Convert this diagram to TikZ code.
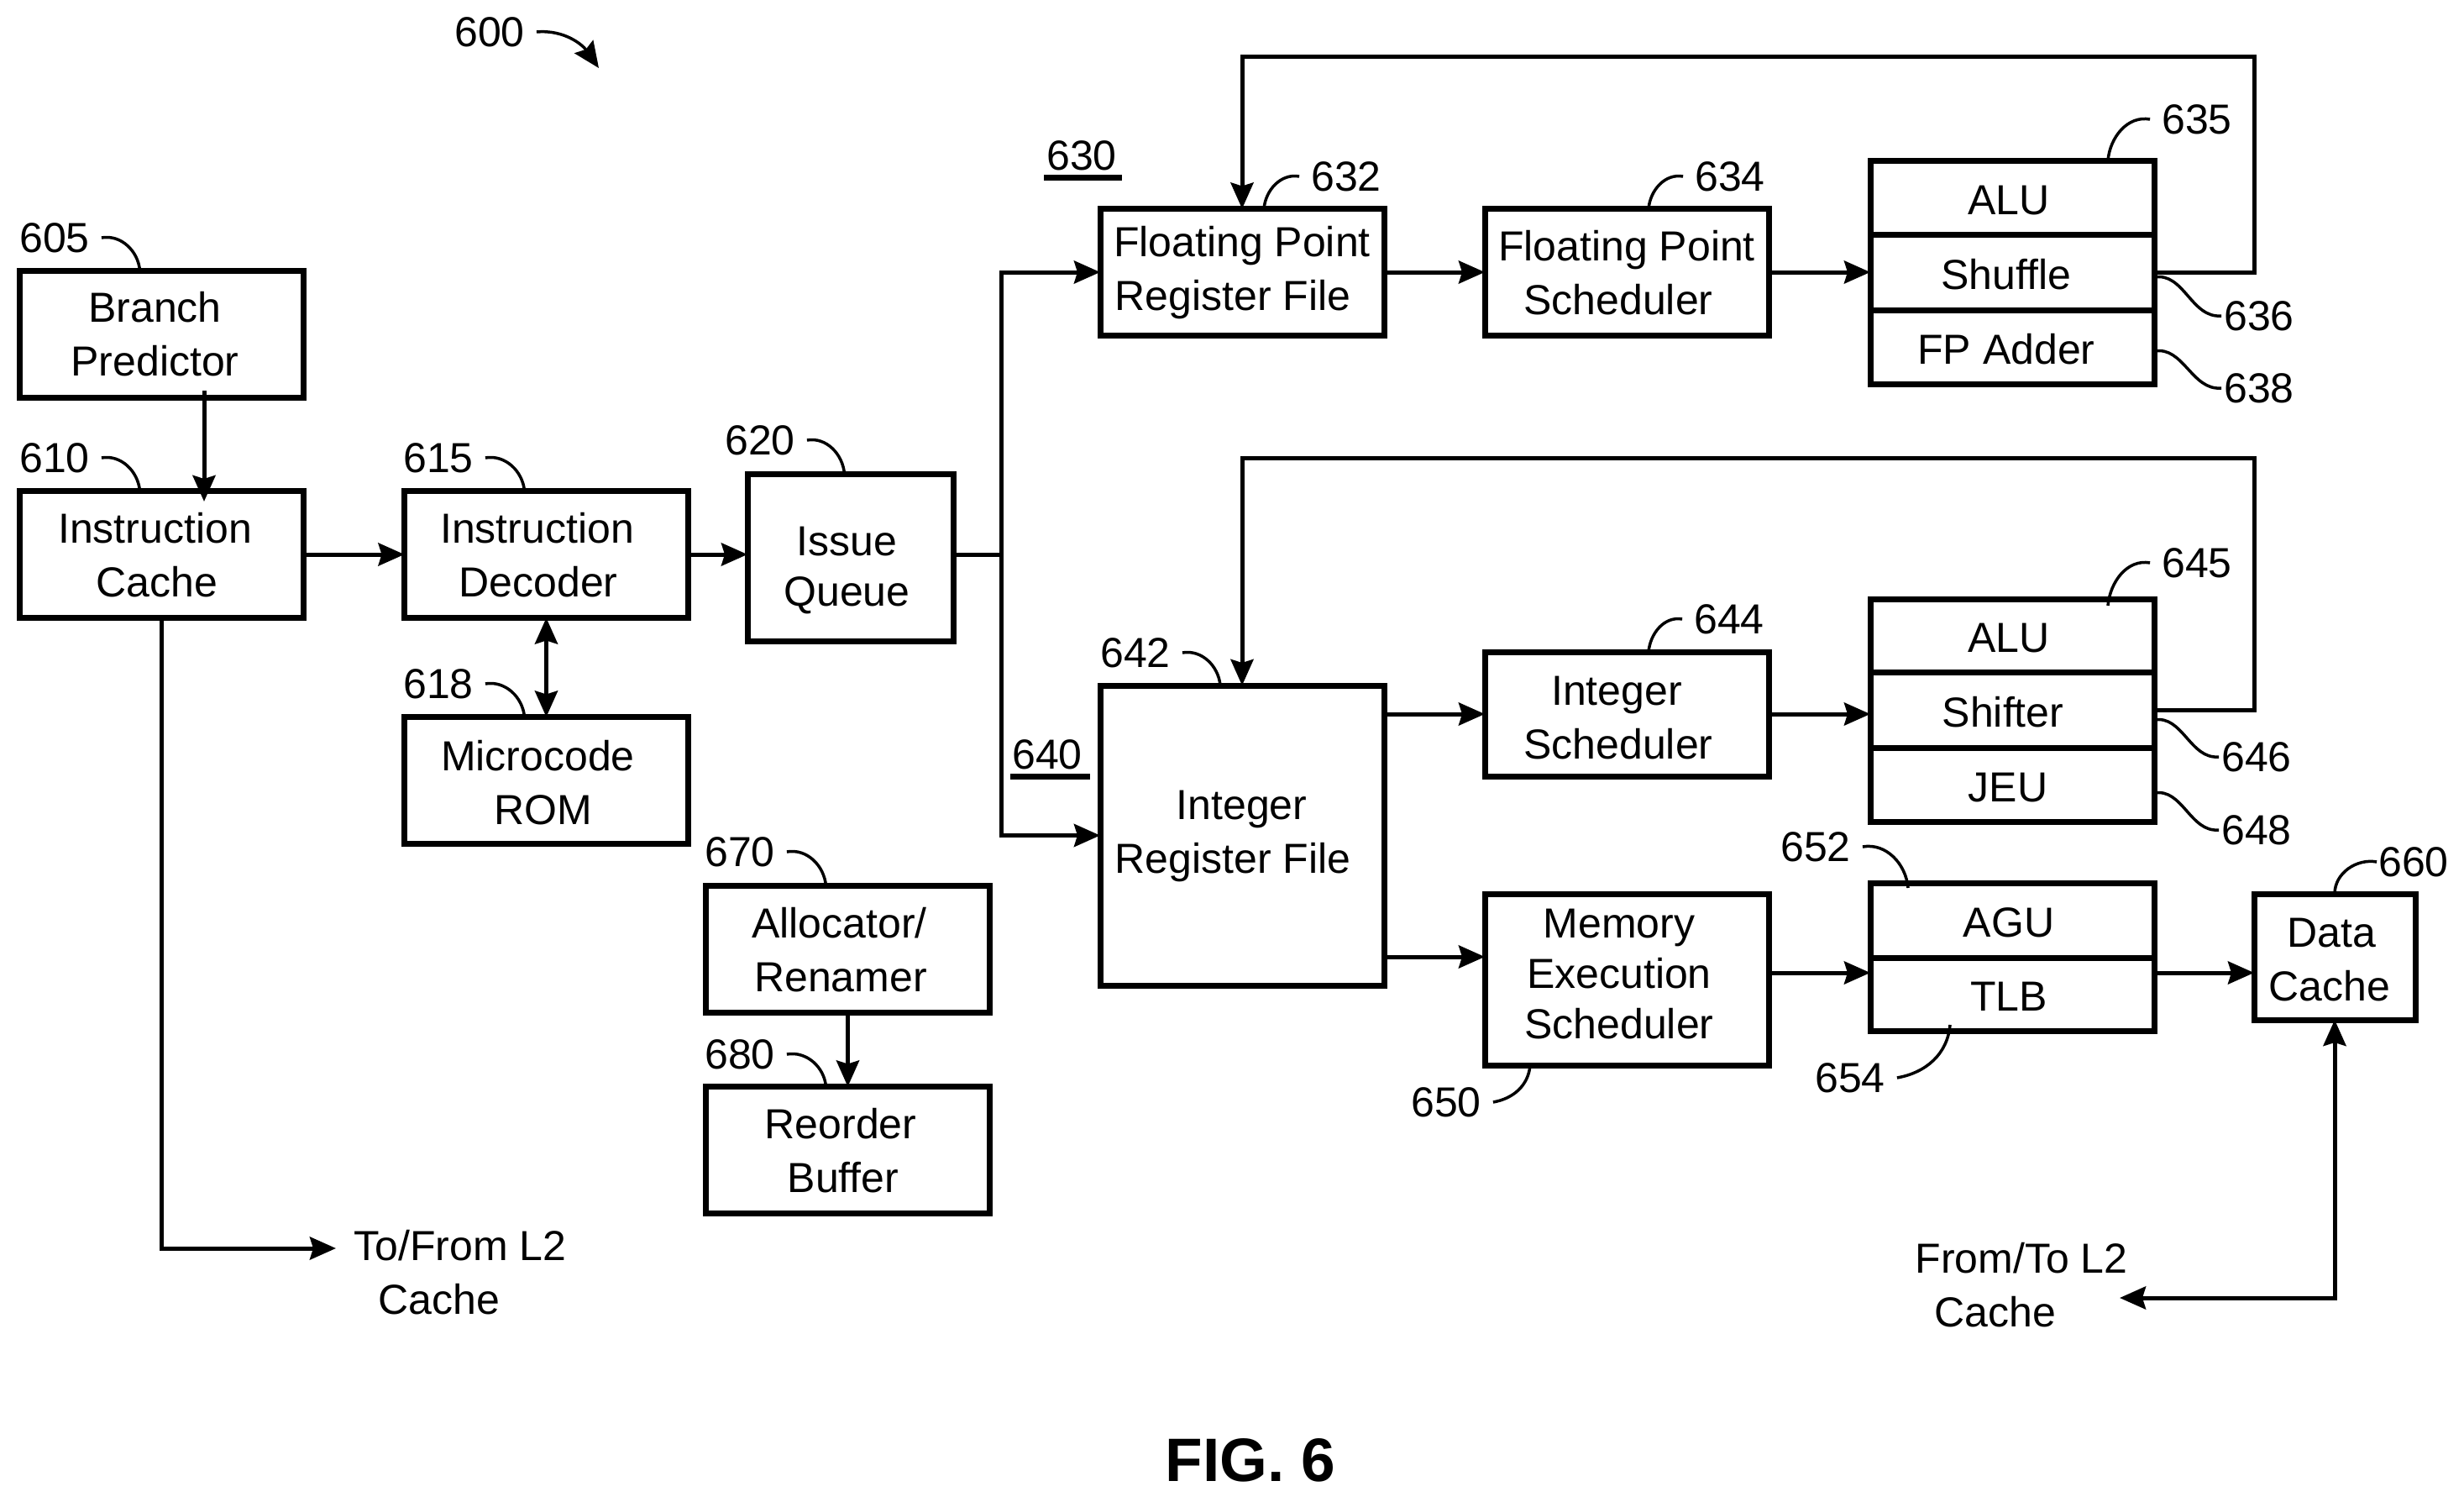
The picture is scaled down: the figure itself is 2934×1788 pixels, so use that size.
\documentclass[tikz,border=0pt]{standalone}
\usepackage{fontspec}
\setmainfont{Liberation Sans}
\usetikzlibrary{arrows.meta}
\newcommand{\nudge}[1]{\hspace*{#1pt}}
\newcommand{\topgap}[1]{\rule{0pt}{#1pt}}

\begin{document}
\begin{tikzpicture}[x=1pt,y=-1pt]

\tikzset{
  Flow Tip/.tip={Stealth[length=31pt, width=27pt, inset=4pt]},
  Flow Line/.style={line width=5pt},
  Leader Line/.style={line width=3.5pt},
  Block Box/.style={draw, line width=7pt, inner sep=0pt, outer sep=0pt, align=center,
    text depth=0pt, font=\fontsize{50}{64}\selectfont},
  Wide Box/.style={Block Box, minimum width=338pt, minimum height=151pt},
  Cell Box/.style={Block Box, minimum width=338pt, minimum height=#1},
  Num Label/.style={inner ysep=0pt, inner xsep=14pt, text depth=0pt, font=\fontsize{50}{64}\selectfont},
  Free Text/.style={inner sep=0pt, align=center, text depth=0pt, font=\fontsize{50}{64}\selectfont}
}

\useasboundingbox (0,0) rectangle (2934,1788);

\node[Wide Box] (bpred) at (192.5,397.5) {\nudge{-16}Branch\\\nudge{-16}Predictor};
\node[Wide Box] (icache) at (192.5,660) {\nudge{-16}Instruction\\\nudge{-11}Cache};
\node[Wide Box] (decoder) at (650.5,660) {\nudge{-22}Instruction\\\nudge{-19}Decoder};
\node[Wide Box] (microrom) at (650.5,929) {\topgap{40}\nudge{-20}Microcode\\\nudge{-8}ROM};
\node[Block Box, minimum width=245pt, minimum height=199pt] (queue) at (1012.5,663.5) {\topgap{55}\nudge{-8}Issue\\[-4pt]\nudge{-8}Queue};
\node[Wide Box] (alloc) at (1009.5,1130) {\nudge{-20}Allocator/\\\nudge{-17}Renamer};
\node[Wide Box] (reorder) at (1009.5,1369) {\nudge{-17}Reorder\\\nudge{-11}Buffer};

\node[Wide Box, text depth=10pt] (fpreg) at (1479,324) {Floating Point\\\nudge{-22}Register File};
\node[Wide Box] (fpsched) at (1937,324) {Floating Point\\\nudge{-20}Scheduler};
\node[Cell Box=88pt] (fpalu) at (2396,235) {\topgap{40}\nudge{-8}ALU};
\node[Cell Box=90pt] (shuffle) at (2396,324) {\topgap{40}\nudge{-14}Shuffle};
\node[Cell Box=88pt] (fpadder) at (2396,413) {\topgap{40}\nudge{-14}FP Adder};

\node[Block Box, minimum width=338pt, minimum height=357pt, text depth=8pt] (intreg) at (1479,994.5) {\nudge{-1}Integer\\\nudge{-22}Register File};
\node[Wide Box, minimum height=148pt] (intsched) at (1937,850) {\topgap{43}\nudge{-24}Integer\\\nudge{-20}Scheduler};
\node[Cell Box=87pt] (intalu) at (2396,756.5) {\topgap{40}\nudge{-8}ALU};
\node[Cell Box=90pt] (shifter) at (2396,845) {\topgap{40}\nudge{-22}Shifter};
\node[Cell Box=88pt] (jeu) at (2396,934) {\topgap{40}\nudge{-10}JEU};

\node[Block Box, minimum width=338pt, minimum height=204pt, text depth=14pt] (memsched) at (1937,1166) {\nudge{-18}Memory\\[-4pt]\nudge{-18}Execution\\[-4pt]\nudge{-18}Scheduler};
\node[Cell Box=89pt] (agu) at (2396,1095.5) {\topgap{40}\nudge{-8}AGU};
\node[Cell Box=87pt] (tlb) at (2396,1183.5) {\topgap{40}\nudge{-8}TLB};
\node[Block Box, minimum width=192pt, minimum height=150pt] (dcache) at (2780,1139) {\topgap{40}\nudge{-8}Data\\\nudge{-12}Cache};

\node[Free Text] (tofrom) at (548,1514) {To/From L2\\\nudge{-50}Cache};
\node[Free Text] (fromto) at (2407,1529) {From/To L2\\\nudge{-62}Cache};
\node[inner sep=0pt, text depth=0pt, font=\fontsize{73}{80}\selectfont\bfseries] (figlabel) at (1489,1738) {FIG. 6};

\node[Num Label] (n600) at (583,38) {600};
\node[Num Label] (n605) at (65,283) {605};
\node[Num Label] (n610) at (65,545) {610};
\node[Num Label] (n615) at (522,545) {615};
\node[Num Label] (n618) at (522,814) {618};
\node[Num Label] (n620) at (905,524) {620};
\node[Num Label] (n670) at (881,1014) {670};
\node[Num Label] (n680) at (881,1255) {680};
\node[Num Label] (n632) at (1603,210) {632};
\node[Num Label] (n634) at (2060,210) {634};
\node[Num Label] (n635) at (2616,142) {635};
\node[Num Label, inner xsep=3pt] (n636) at (2690,376) {636};
\node[Num Label, inner xsep=3pt] (n638) at (2690,462) {638};
\node[Num Label] (n642) at (1352,777) {642};
\node[Num Label] (n644) at (2059,737) {644};
\node[Num Label] (n645) at (2616,670) {645};
\node[Num Label, inner xsep=3pt] (n646) at (2687,901) {646};
\node[Num Label, inner xsep=3pt] (n648) at (2687,988) {648};
\node[Num Label] (n650) at (1722,1312) {650};
\node[Num Label] (n652) at (2162,1008) {652};
\node[Num Label] (n654) at (2203,1283) {654};
\node[Num Label, inner xsep=2pt] (n660) at (2874,1026) {660};
\node[Num Label, inner xsep=0pt] (n630) at (1288,185) {630};
\node[Num Label, inner xsep=0pt] (n640) at (1247,898) {640};

\coordinate (bus) at (1192,660);
\coordinate (fploop) at (2684,67);
\coordinate (intloop) at (2684,545);
\coordinate (bpredout) at (243,465);
\coordinate (icachein) at (243,597);
\coordinate (tofromin) at (400,1486);
\coordinate (fromtoin) at (2524,1545);
\coordinate (memout) at (2107,1158);
\coordinate (tlbout) at (2565,1158);
\coordinate (memin) at (1648,1139);
\coordinate (arrow600) at (713,81);

\draw[arrows=-Flow Tip, Flow Line] (bpredout) -- (icachein);
\draw[arrows=-Flow Tip, Flow Line] (icache) -- (decoder);
\draw[arrows=-Flow Tip, Flow Line] (decoder) -- (queue.west |- decoder);
\draw[arrows=Flow Tip-Flow Tip, Flow Line] (decoder.south) -- (microrom.north);
\draw[arrows=-Flow Tip, Flow Line] (alloc) -- (reorder);
\draw[arrows=-Flow Tip, Flow Line] (icache.south) |- (tofromin);
\draw[Flow Line] (queue.east |- bus) -- (bus);
\draw[arrows=-Flow Tip, Flow Line] (bus) |- (fpreg.west);
\draw[arrows=-Flow Tip, Flow Line] (bus) |- (intreg.west);

\draw[arrows=-Flow Tip, Flow Line] (fpreg) -- (fpsched);
\draw[arrows=-Flow Tip, Flow Line] (fpsched) -- (shuffle);
\draw[arrows=-Flow Tip, Flow Line] (shuffle.east) -| (fploop) -| (fpreg.north);
\draw[arrows=-Flow Tip, Flow Line] (intreg.east |- intsched) -- (intsched);
\draw[arrows=-Flow Tip, Flow Line] (intsched) -- (intsched -| shifter.west);
\draw[arrows=-Flow Tip, Flow Line] (shifter.east) -| (intloop) -| (intreg.north);
\draw[arrows=-Flow Tip, Flow Line] (memin) -- (memin -| memsched.west);
\draw[arrows=-Flow Tip, Flow Line] (memout) -- (memout -| tlb.west);
\draw[arrows=-Flow Tip, Flow Line] (tlbout) -- (tlbout -| dcache.west);
\draw[arrows=Flow Tip-Flow Tip, Flow Line] (dcache.south) |- (fromtoin);

\draw[arrows=-Flow Tip, Leader Line] (n600.east) to[out=5,in=125] (arrow600);
\draw[Leader Line] (n605.east) to[out=10,in=95] ([xshift=-26pt]bpred.north);
\draw[Leader Line] (n610.east) to[out=10,in=95] ([xshift=-26pt]icache.north);
\draw[Leader Line] (n615.east) to[out=10,in=95] ([xshift=-26pt]decoder.north);
\draw[Leader Line] (n618.east) to[out=10,in=95] ([xshift=-26pt]microrom.north);
\draw[Leader Line] (n620.east) to[out=10,in=95] ([xshift=-7pt]queue.north);
\draw[Leader Line] (n670.east) to[out=10,in=95] ([xshift=-26pt]alloc.north);
\draw[Leader Line] (n680.east) to[out=10,in=95] ([xshift=-26pt]reorder.north);
\draw[Leader Line] (n642.east) to[out=10,in=95] ([xshift=-26pt]intreg.north);
\draw[Leader Line] (n652.east) to[out=10,in=95] ([shift={(-124pt,-6pt)}]agu.north);
\draw[Leader Line] (n632.west) to[out=170,in=85] ([xshift=26pt]fpreg.north);
\draw[Leader Line] (n634.west) to[out=170,in=85] ([xshift=26pt]fpsched.north);
\draw[Leader Line] (n635.west) to[out=170,in=85] ([xshift=114pt]fpalu.north);
\draw[Leader Line] (n644.west) to[out=170,in=85] ([xshift=26pt]intsched.north);
\draw[Leader Line] (n645.west) to[out=170,in=85] ([shift={(114pt,-8pt)}]intalu.north);
\draw[Leader Line] (n660.west) to[out=170,in=90] (dcache.north);
\draw[Leader Line] ([yshift=-6pt]shuffle.east) to[out=10,in=185] (n636.west);
\draw[Leader Line] ([yshift=-5pt]fpadder.east) to[out=10,in=185] (n638.west);
\draw[Leader Line] ([yshift=-12pt]shifter.east) to[out=10,in=185] (n646.west);
\draw[Leader Line] ([yshift=-10pt]jeu.east) to[out=10,in=185] (n648.west);
\draw[Leader Line] (n650.east) to[out=10,in=-95] ([xshift=-115pt]memsched.south);
\draw[Leader Line] (n654.east) to[out=10,in=-95] ([shift={(-74pt,7pt)}]tlb.south);

\draw[line width=7pt] ([shift={(-3pt,-9pt)}]n630.south west) -- ([shift={(6pt,-9pt)}]n630.south east);
\draw[line width=7pt] ([shift={(-2pt,-9pt)}]n640.south west) -- ([shift={(9pt,-9pt)}]n640.south east);

\end{tikzpicture}
\end{document}
